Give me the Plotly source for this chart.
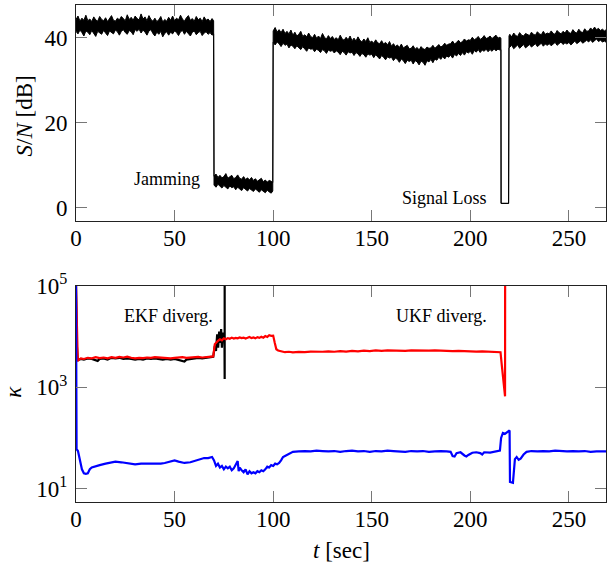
import plotly.graph_objects as go

# ---------------- S/N (top panel): noise band upper / lower envelopes, 1 s samples ----------------
t_quiet = list(range(0, 70)) + [69.8]
hi_quiet = [44.3, 45.1, 43.9, 44.6, 44.1, 45.3, 44.0, 44.4, 43.8, 44.9,
            44.2, 43.9, 45.0, 44.3, 44.0, 44.7, 43.8, 44.5, 45.2, 44.1,
            43.9, 44.6, 44.2, 45.0, 44.4, 44.0, 45.4, 44.3, 44.8, 44.1,
            45.1, 44.5, 44.2, 45.6, 44.4, 44.9, 44.0, 45.2, 44.3, 43.9,
            44.6, 43.8, 44.2, 45.0, 43.7, 44.3, 43.9, 44.8, 44.1, 45.1,
            44.0, 44.6, 44.2, 45.3, 44.4, 43.9, 44.7, 45.2, 44.1, 44.5,
            43.9, 45.0, 44.2, 44.6, 43.8, 44.9, 44.1, 44.4, 43.8, 44.5,
            44.0]
lo_quiet = [41.5, 40.9, 41.8, 41.2, 40.4, 41.6, 41.3, 40.7, 41.7, 41.1,
            40.3, 41.5, 41.2, 40.8, 41.7, 41.0, 40.5, 41.6, 41.3, 40.9,
            41.8, 41.4, 40.6, 41.5, 41.9, 41.2, 40.8, 41.7, 41.4, 40.7,
            41.9, 41.5, 42.0, 41.1, 41.8, 41.3, 40.6, 41.6, 41.9, 41.0,
            40.4, 41.3, 40.8, 41.5, 40.2, 41.0, 41.4, 40.6, 41.3, 40.9,
            41.6, 41.2, 40.5, 41.4, 41.7, 40.8, 41.5, 41.1, 40.4, 41.3,
            41.6, 40.7, 41.2, 41.5, 40.5, 41.1, 41.4, 40.8, 41.2, 40.6,
            40.9]

t_jam = list(range(70, 100)) + [99.8]
hi_jam = [7.4, 7.9, 7.1, 7.6, 7.0, 7.3, 8.0, 6.9, 7.2, 7.6,
          6.8, 7.1, 7.7, 6.9, 6.7, 7.3, 6.6, 7.0, 6.5, 7.1,
          6.4, 6.8, 6.2, 6.6, 6.9, 6.1, 6.5, 6.0, 6.4, 6.2,
          5.9]
lo_jam = [5.3, 4.8, 5.5, 5.0, 4.6, 5.2, 4.9, 4.4, 5.1, 4.7,
          4.9, 4.2, 4.8, 4.5, 4.0, 4.7, 4.4, 3.9, 4.5, 4.2,
          3.8, 4.4, 4.1, 3.6, 4.2, 3.9, 3.5, 4.1, 3.7, 3.4,
          3.9]

t_mid = list(range(100, 216)) + [215.5]
hi_mid = [41.6, 42.4, 41.3, 41.9, 41.2, 42.0, 41.0, 41.5, 40.9, 41.8,
          40.6, 41.3, 40.4, 40.8, 41.5, 40.3, 40.7, 40.2, 41.1, 40.3,
          40.0, 40.8, 39.9, 40.4, 39.8, 41.0, 40.1, 39.7, 40.5, 39.8,
          40.3, 39.6, 40.0, 39.5, 40.6, 39.7, 39.4, 40.1, 39.5, 40.4,
          39.3, 39.9, 39.2, 40.2, 39.4, 39.0, 39.7, 39.1, 40.0, 38.9,
          39.2, 38.7, 39.5, 38.8, 38.6, 39.3, 38.5, 38.9, 38.3, 39.1,
          38.0, 38.6, 37.9, 38.3, 37.7, 38.5, 37.6, 37.9, 38.2, 37.4,
          37.5, 38.1, 37.3, 37.7, 37.1, 37.9, 37.4, 37.2, 37.8, 37.5,
          37.6, 38.2, 37.5, 37.9, 38.4, 37.8, 38.1, 38.7, 38.2, 38.5,
          38.6, 39.2, 38.5, 38.9, 39.4, 38.8, 39.1, 39.7, 39.2, 39.5,
          39.4, 40.1, 39.5, 39.8, 40.3, 39.6, 39.9, 40.5, 39.8, 40.0,
          40.4, 39.8, 40.2, 40.6, 39.9, 40.1, 39.9]
lo_mid = [38.9, 38.3, 39.0, 38.6, 37.9, 38.7, 38.2, 38.5, 37.6, 38.3,
          38.0, 37.4, 38.1, 37.7, 37.2, 37.9, 37.5, 36.8, 37.6, 37.3,
          37.4, 36.7, 37.3, 37.0, 36.5, 37.2, 36.9, 36.3, 37.1, 36.8,
          37.0, 36.4, 36.9, 36.6, 36.0, 36.8, 36.5, 35.9, 36.7, 36.4,
          36.6, 35.8, 36.5, 36.2, 35.6, 36.3, 36.0, 35.4, 36.2, 35.9,
          36.1, 35.3, 36.0, 35.6, 35.0, 35.8, 35.4, 34.8, 35.5, 35.2,
          35.4, 34.6, 35.2, 34.9, 34.2, 35.0, 34.6, 33.9, 34.7, 34.4,
          34.7, 33.8, 34.6, 34.3, 33.6, 34.5, 34.2, 33.5, 34.6, 34.3,
          34.9, 34.1, 35.0, 34.7, 35.4, 34.9, 35.6, 35.0, 35.7, 35.4,
          35.9, 35.2, 36.1, 35.7, 36.3, 35.8, 36.5, 35.9, 36.7, 36.4,
          36.8, 36.1, 37.0, 36.6, 37.2, 36.5, 37.1, 36.8, 37.3, 36.7,
          37.2, 36.8, 37.4, 36.9, 37.3, 37.1, 37.2]

t_loss = [215.6, 219.4]
hi_loss = [1.0, 1.0]
lo_loss = [1.0, 1.0]

t_end = [219.6] + list(range(220, 270))
hi_end = [40.4,
          40.8, 40.2, 41.1, 40.5, 40.3, 41.2, 40.6, 40.4, 41.0, 40.7,
          40.5, 41.3, 40.8, 40.6, 41.4, 40.9, 40.7, 41.5, 40.8, 41.1,
          40.9, 41.6, 41.0, 40.8, 41.7, 41.2, 40.9, 41.5, 41.1, 41.8,
          41.2, 41.0, 41.9, 41.3, 41.1, 42.0, 41.4, 41.2, 42.1, 41.5,
          41.6, 42.3, 41.8, 42.5, 41.9, 42.2, 41.7, 42.0, 41.6, 41.9]
lo_end = [37.6,
          37.7, 38.2, 37.4, 37.9, 38.3, 37.5, 38.0, 38.4, 37.6, 38.1,
          38.4, 37.8, 38.2, 38.6, 37.9, 38.3, 38.7, 38.0, 38.5, 38.2,
          38.6, 38.1, 38.5, 38.9, 38.2, 38.7, 39.0, 38.4, 38.8, 38.5,
          38.9, 38.3, 38.8, 39.2, 38.6, 39.0, 39.3, 38.7, 39.1, 39.4,
          39.0, 39.5, 38.9, 39.3, 39.7, 39.1, 39.4, 39.0, 39.2, 38.9]

# ---------------- condition number kappa (bottom panel) ----------------
t_ekf = [0, 0.4, 0.9, 1.5, 2.5, 4, 6, 8, 10, 11,
         12, 14, 16, 18, 20, 22, 24, 26, 28, 30,
         32, 34, 36, 38, 40, 42, 44, 46, 48, 50,
         52, 54, 55, 56, 58, 60, 62, 64, 66, 68,
         69.6, 70.4, 71, 71.6, 72.1, 72.6, 73.1, 73.6, 74, 74.5,
         74.9, 75.3, 75.4, 75.4]
k_ekf = [100000, 7000, 3400, 3500, 3600, 3500, 3700, 3600, 3400, 3300,
         3600, 3700, 3500, 3800, 3700, 3800, 3600, 3700, 3600, 3500,
         3600, 3500, 3700, 3600, 3700, 3600, 3500, 3600, 3500, 3600,
         3400, 3300, 3200, 3500, 3600, 3700, 3800, 3700, 3800, 3900,
         4000, 6500, 5200, 11000, 6000, 12500, 7500, 14000, 6000, 12000,
         8000, 9500, 1450, 300000]

t_ukf = [0, 0.4, 0.9, 1.5, 2.5, 4, 6, 8, 10, 12,
         14, 16, 18, 20, 22, 24, 26, 28, 30, 32,
         34, 36, 38, 40, 42, 44, 46, 48, 50, 52,
         54, 56, 58, 60, 62, 64, 66, 68, 69.6, 70.4,
         71.2, 72, 73, 74, 75, 76, 77, 78, 79, 80,
         81, 82, 83, 84, 85, 86, 87, 88, 89, 90,
         91, 92, 93, 94, 95, 96, 97, 98, 99, 100,
         100.8, 101.6, 102.5, 104, 106, 108, 110, 113, 116, 119,
         122, 125, 128, 131, 134, 137, 140, 143, 146, 149,
         152, 155, 158, 161, 164, 167, 170, 173, 176, 179,
         182, 185, 188, 191, 194, 197, 200, 203, 206, 209,
         212, 214.5, 215.3, 216, 216.7, 217.3, 217.6, 217.65]
k_ukf = [100000, 8000, 3300, 3500, 3700, 3600, 3800, 3700, 3900, 3750,
         3850, 3700, 3900, 3800, 3950, 3850, 4000, 3800, 3700, 3800,
         3750, 3850, 3800, 3900, 3850, 3750, 3800, 3700, 3800, 3850,
         3900, 3800, 3850, 3900, 3950, 3850, 3950, 4000, 4050, 7000,
         7800, 8200, 8800, 8400, 9200, 8800, 9300, 9000, 9500, 9100,
         9400, 9200, 9600, 9300, 9500, 9100, 9400, 9800, 9300, 9600,
         9200, 9700, 9400, 9900, 9500, 10200, 9800, 10600, 10300, 10400,
         7500, 5600, 5300, 5100, 4900, 5000, 4850, 4950, 4900, 5050,
         4950, 5000, 5100, 5000, 5150, 5050, 5200, 5100, 5250, 5150,
         5300, 5200, 5300, 5250, 5350, 5200, 5300, 5250, 5350, 5250,
         5300, 5200, 5250, 5150, 5200, 5100, 5150, 5050, 5100, 5050,
         5100, 5000, 4900, 2600, 1200, 680, 660, 300000]

t_new = [0, 0.3, 1, 2, 3, 4, 5, 6, 7, 8,
         10, 12, 15, 18, 20, 23, 25, 28, 30, 33,
         35, 38, 40, 43, 45, 48, 50, 52, 55, 58,
         60, 63, 65, 67, 69, 70, 71, 72, 73, 74,
         75, 76, 77, 78, 79, 80, 81, 82, 82.5, 83,
         84, 85, 86, 87, 88, 89, 90, 91, 92, 93,
         94, 95, 96, 97, 98, 99, 100, 101, 102, 103,
         104, 105, 106, 108, 110, 113, 116, 119, 122, 125,
         128, 131, 134, 137, 140, 143, 146, 149, 152, 155,
         158, 161, 164, 167, 170, 173, 176, 179, 182, 185,
         188, 190, 191, 192, 193, 195, 197, 198, 199, 201,
         203, 205, 206, 207, 210, 212, 214, 215, 215.6, 216.5,
         217.5, 218.5, 219.9, 220.1, 221, 221.6, 222.6, 223.5, 224.5, 225.5,
         227, 228.5, 231, 234, 237, 240, 243, 246, 249, 252,
         255, 258, 261, 264, 267, 269.5]
k_new = [100000, 60, 55, 35, 24, 20, 19.5, 20, 24, 26,
         27, 29, 31, 33, 34, 33, 32, 30, 30, 31,
         31, 31, 30, 31, 32, 35, 36, 34, 32, 33,
         35, 37, 40, 40, 42, 36, 28, 31, 26, 28,
         24, 27, 25, 27, 23, 25, 29, 35, 22, 26,
         23, 21, 24, 19, 22, 20, 21, 20, 22, 21,
         23, 22, 24, 27, 26, 29, 28, 31, 30, 32,
         36, 42, 44, 48, 53, 54, 55, 54, 56, 55,
         54, 55, 53, 55, 56, 54, 55, 53, 55, 54,
         56, 55, 54, 53, 55, 54, 55, 53, 54, 55,
         54, 53, 44, 43, 50, 52, 45, 43, 46, 51,
         52, 50, 47, 52, 51, 53, 54, 56, 100, 125,
         120, 130, 140, 13.5, 13, 13, 38, 42, 37, 39,
         47, 53, 55, 54, 55, 54, 56, 55, 54, 55,
         54, 55, 53, 54, 53, 54]

x_ticks = [0, 50, 100, 150, 200, 250]
snr_ticks = [0, 20, 40]
kappa_ticks = [10, 1000, 100000]
kappa_ticktext = ["10<sup>1</sup>", "10<sup>3</sup>", "10<sup>5</sup>"]

FONT = "Liberation Serif"

t_snr = t_quiet + t_jam + t_mid + t_loss + t_end
snr_hi = hi_quiet + hi_jam + hi_mid + hi_loss + hi_end
snr_lo = lo_quiet + lo_jam + lo_mid + lo_loss + lo_end

fig = go.Figure()
fig.add_trace(go.Scatter(
    x=t_snr + t_snr[::-1], y=snr_hi + snr_lo[::-1],
    mode="lines", fill="toself", fillcolor="black",
    line=dict(color="black", width=1), xaxis="x", yaxis="y",
    hoverinfo="skip", showlegend=False))

fig.add_trace(go.Scatter(x=t_ekf, y=k_ekf, mode="lines",
                         line=dict(color="black", width=2.2),
                         xaxis="x2", yaxis="y2", showlegend=False))
fig.add_trace(go.Scatter(x=t_ukf, y=k_ukf, mode="lines",
                         line=dict(color="#ff0000", width=2.2),
                         xaxis="x2", yaxis="y2", showlegend=False))
fig.add_trace(go.Scatter(x=t_new, y=k_new, mode="lines",
                         line=dict(color="#0000ff", width=2.2),
                         xaxis="x2", yaxis="y2", showlegend=False))

axis_common = dict(showline=True, linecolor="#222", linewidth=1, mirror="ticks",
                   ticks="inside", ticklen=11, tickcolor="#777", tickwidth=1,
                   showgrid=False, zeroline=False, automargin=False,
                   tickfont=dict(family=FONT, size=23, color="black"))

fig.update_layout(
    width=607, height=568, autosize=False,
    margin=dict(l=76, r=1, t=5, b=66, autoexpand=False),
    paper_bgcolor="white", plot_bgcolor="white",
    font=dict(family=FONT, color="black"),
    showlegend=False,
    xaxis=dict(domain=[0, 1], anchor="y", range=[0, 268.8], tickvals=x_ticks,
               ticklabelstandoff=-4, **axis_common),
    yaxis=dict(domain=[0.565, 1], anchor="x", range=[-3.2, 47.7], tickvals=snr_ticks,
               ticklabelstandoff=3, **axis_common),
    xaxis2=dict(domain=[0, 1], anchor="y2", range=[0, 268.8], tickvals=x_ticks,
                ticklabelstandoff=-4, **axis_common),
    yaxis2=dict(domain=[0, 0.435], anchor="x2", type="log", range=[0.735, 5],
                tickvals=kappa_ticks, ticktext=kappa_ticktext,
                ticklabelstandoff=3, **axis_common),
)

ann_font = dict(family=FONT, size=18, color="black")
fig.add_annotation(x=46, y=6.8, xref="x", yref="y", text="Jamming",
                   showarrow=False, font=ann_font)
fig.add_annotation(x=187, y=2.2, xref="x", yref="y", text="Signal Loss",
                   showarrow=False, font=ann_font)
fig.add_annotation(x=46.7, y=4.40, xref="x2", yref="y2", text="EKF diverg.",
                   showarrow=False, font=ann_font)
fig.add_annotation(x=185.3, y=4.40, xref="x2", yref="y2", text="UKF diverg.",
                   showarrow=False, font=ann_font)

title_font = dict(family=FONT, size=23, color="black")
fig.add_annotation(x=-0.098, y=0.776, xref="paper", yref="paper",
                   text="<i>S</i>/<i>N</i> [dB]", textangle=-90, showarrow=False,
                   font=title_font, xanchor="center", yanchor="middle")
fig.add_annotation(x=-0.117, y=0.222, xref="paper", yref="paper",
                   text="<i>κ</i>", textangle=-90, showarrow=False,
                   font=title_font, xanchor="center", yanchor="middle")
fig.add_annotation(x=0.501, y=-0.0966, xref="paper", yref="paper",
                   text="<i>t</i> [sec]", showarrow=False,
                   font=title_font, xanchor="center", yanchor="middle")

fig.write_html("out.html", config={"displayModeBar": False},
               post_script="document.body.style.margin='0';document.body.style.overflow='hidden';")
